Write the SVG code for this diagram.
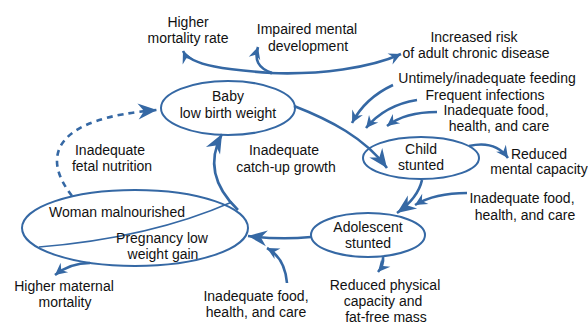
<svg xmlns="http://www.w3.org/2000/svg" width="588" height="324" viewBox="0 0 588 324">
<style>
text{font-family:"Liberation Sans",Arial,sans-serif;font-size:14px;fill:#111;text-anchor:middle}
.node{fill:#fff;stroke:#3568a4;stroke-width:2}
.c{fill:none;stroke:#3568a4;stroke-width:2.6}
.big{marker-end:url(#big)}
.sm{marker-end:url(#sm)}
</style>
<defs>
<marker id="big" viewBox="-20 -10 22 20" markerWidth="22" markerHeight="20" refX="0" refY="0" orient="auto" markerUnits="userSpaceOnUse">
<path d="M0,0 L-19,-8 L-13,0 L-19,8 Z" fill="#3568a4"/>
</marker>
<marker id="sm" viewBox="-14 -7 16 14" markerWidth="16" markerHeight="14" refX="0" refY="0" orient="auto" markerUnits="userSpaceOnUse">
<path d="M0,0 L-12,-6 L-8,0 L-12,6 Z" fill="#3568a4"/>
</marker>
</defs>
<rect width="588" height="324" fill="#fff"/>
<g id="baby">
<ellipse class="node" cx="228" cy="108" rx="67" ry="27"/>
<text x="228" y="101">Baby</text>
<text x="228" y="118">low birth weight</text>
</g>
<g id="child">
<ellipse class="node" cx="421" cy="158" rx="58" ry="21"/>
<text x="421" y="154">Child</text>
<text x="421" y="170">stunted</text>
</g>
<g id="adolescent">
<ellipse class="node" cx="368" cy="235" rx="57" ry="22"/>
<text x="368" y="232">Adolescent</text>
<text x="368" y="248">stunted</text>
</g>
<g id="woman">
<ellipse class="node" cx="135" cy="228" rx="113" ry="38" stroke-width="1.8"/>
<path d="M39,247 Q150,238 232,202" fill="none" stroke="#3568a4" stroke-width="1.5"/>
<text x="117" y="217">Woman malnourished</text>
<text x="162" y="243">Pregnancy low</text>
<text x="163" y="259">weight gain</text>
</g>
<g id="connectors">
<path class="c sm" d="M272,73 C230,70 190,66 183,51"/>
<path class="c sm" d="M270,73 C320,75 370,68 401,54"/>
<path class="c sm" d="M272,73 C258,68 254,60 258,47"/>
<path class="c big" d="M294,106 C330,120 365,138 387,168"/>
<path class="c sm" d="M393,85 Q365,98 352,123"/>
<path class="c sm" d="M417,100 Q385,105 366,128"/>
<path class="c sm" d="M437,112 Q405,112 387,126"/>
<path class="c sm" d="M469,146 Q495,140 508,158"/>
<path class="c big" d="M422,180 Q418,198 397,213"/>
<path class="c sm" d="M467,193 Q435,193 415,205"/>
<path class="c sm" d="M383,257 Q384,265 378,272"/>
<path class="c big" d="M311,237 Q280,240 248,236"/>
<path class="c sm" d="M287,283 Q285,258 267,248"/>
<path class="c big" d="M238,210 C212,185 208,160 222,134"/>
<path class="c sm" d="M90,263 Q70,263 55,275"/>
<path class="c big" d="M72,196 C40,155 55,118 157,110" stroke-dasharray="6,5"/>
</g>
<g id="labels">
<text x="188" y="27">Higher</text>
<text x="188" y="43">mortality rate</text>
<text x="307" y="34">Impaired mental</text>
<text x="308" y="51">development</text>
<text x="474" y="42">Increased risk</text>
<text x="476" y="58">of adult chronic disease</text>
<text x="487" y="83">Untimely/inadequate feeding</text>
<text x="485" y="100">Frequent infections</text>
<text x="496" y="115">Inadequate food,</text>
<text x="499" y="131">health, and care</text>
<text x="539" y="159">Reduced</text>
<text x="539" y="174">mental capacity</text>
<text x="110" y="155">Inadequate</text>
<text x="112" y="171">fetal nutrition</text>
<text x="284" y="155">Inadequate</text>
<text x="286" y="172">catch-up growth</text>
<text x="522" y="203">Inadequate food,</text>
<text x="525" y="220">health, and care</text>
<text x="385" y="290">Reduced physical</text>
<text x="383" y="306">capacity and</text>
<text x="386" y="322">fat-free mass</text>
<text x="64" y="291">Higher maternal</text>
<text x="65" y="307">mortality</text>
<text x="256" y="301">Inadequate food,</text>
<text x="256" y="317">health, and care</text>
</g>
</svg>
